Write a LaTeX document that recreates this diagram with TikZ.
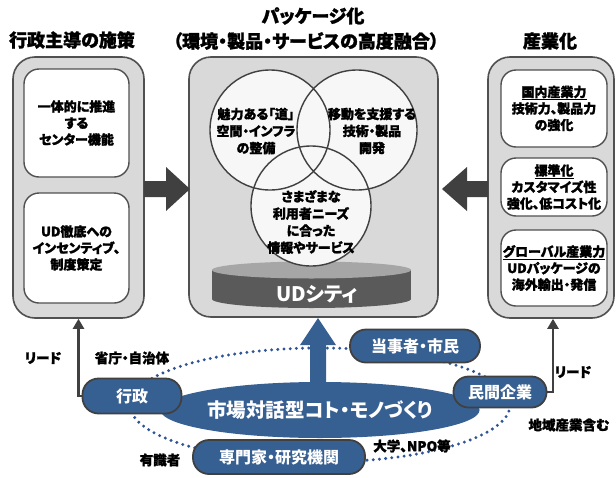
\documentclass[tikz,border=0pt]{standalone}
\usepackage{fontspec}
\setmainfont{Noto Sans CJK JP}[RawFeature=+palt, BoldFeatures={FakeBold=1.6}]
\newfontfamily\whitefont{Noto Sans CJK JP}[RawFeature=+palt]
\usetikzlibrary{arrows.meta,shapes.geometric,calc}
\definecolor{panelgray}{HTML}{D9D9D9}
\definecolor{edgegray}{HTML}{505050}
\definecolor{arrowgray}{HTML}{404040}
\definecolor{udblue}{HTML}{376092}
\definecolor{dotblue}{HTML}{2F5597}
\definecolor{cyltop}{HTML}{A6A6A6}
\definecolor{cylbody}{HTML}{5A5A5A}
\definecolor{circfill}{HTML}{F7F7F7}
\begin{document}
\begin{tikzpicture}[x=1pt,y=-1pt,
  panel/.style={draw=edgegray, line width=1.6, fill=panelgray, rounded corners=22, inner sep=0},
  innerbox/.style={draw=edgegray, line width=1.4, fill=white, rounded corners=15, inner sep=0, align=center,
    font=\fontsize{13}{16.5}\selectfont\bfseries},
  venn/.style={circle, draw=arrowgray, line width=1.4, minimum size=120, inner sep=0},
  venntext/.style={align=center, font=\fontsize{13}{17}\selectfont\bfseries},
  title/.style={font=\fontsize{18}{20}\selectfont\bfseries},
  bluebox/.style={draw=arrowgray, line width=1.8, fill=udblue, rounded corners=16, inner sep=0,
    text=white, font=\whitefont\fontsize{16}{18}\selectfont\bfseries},
  lbl/.style={font=\fontsize{13.5}{15}\selectfont\bfseries},
  smallarrow/.style={draw=arrowgray, line width=2.4, -{Triangle[length=10,width=11]}},
  bigarrow/.style={fill=arrowgray},
  dotring/.style={draw=dotblue, line width=3.3, line cap=round, dash pattern=on 0pt off 6.2pt}
]
\useasboundingbox (0,0) rectangle (616,477);

% titles
\node[title] (t1) at (72,40) {行政主導の施策};
\node[title] (t2) at (313,16) {パッケージ化};
\node[title] (t3) at (306,41) {（環境・製品・サービスの高度融合）};
\node[title] (t4) at (550,41) {産業化};

% panels
\node[panel, minimum width=131, minimum height=261] (lp) at (78.5,187.5) {};
\node[panel, minimum width=249, minimum height=260] (cp) at (313.5,187) {};
\node[panel, minimum width=126, minimum height=261] (rp) at (551,187.5) {};

% left inner boxes
\node[innerbox, minimum width=105, minimum height=108] (l1) at (76.5,123) {一体的に推進\\する\\センター機能};
\node[innerbox, minimum width=105, minimum height=110] (l2) at (76.5,248) {UD徹底への\\インセンティブ、\\制度策定};

% right inner boxes
\node[innerbox, minimum width=106, minimum height=77] (r1) at (554,108.5) {\underline{国内産業力}\\技術力、製品力\\の強化};
\node[innerbox, minimum width=106, minimum height=58] (r2) at (554,187) {\underline{標準化}\\カスタマイズ性\\強化、低コスト化};
\node[innerbox, minimum width=106, minimum height=76] (r3) at (554,268) {\underline{グローバル産業力}\\UDパッケージの\\海外輸出・発信};

% big grey arrows
\fill[bigarrow] (144,181) -- (166,181) -- (166,167) -- (190,189) -- (166,211) -- (166,197) -- (144,197) -- cycle;
\fill[bigarrow] (488,181) -- (467,181) -- (467,167) -- (442,189) -- (467,211) -- (467,197) -- (488,197) -- cycle;

% cylinder
\fill[fill=cylbody] (212,270) rectangle (411,299);
\node[ellipse, fill=cylbody, minimum width=199, minimum height=18, inner sep=0] (cylb) at (311.5,299) {};
\node[ellipse, fill=cyltop, minimum width=199, minimum height=17, inner sep=0] (cyl) at (311.5,270) {};
\node[text=white, font=\whitefont\fontsize{20}{22}\selectfont\bfseries] (ud) at (317,294) {UDシティ};

% venn circles
\fill[circfill] (270,130) circle[radius=60];
\fill[circfill] (357,130) circle[radius=60];
\fill[circfill] (311,206) circle[radius=60];
\node[venn] (ca) at (270,130) {};
\node[venn] (cb) at (357,130) {};
\node[venn] (cc) at (311,206) {};
\node[venntext] (ta) at (256,131) {魅力ある「道」\\空間・インフラ\\の整備};
\node[venntext] (tb) at (372,131) {移動を支援する\\技術・製品\\開発};
\node[venntext] (tc) at (311,222) {さまざまな\\利用者ニーズ\\に合った\\情報やサービス};

% dotted ring
\draw[dotring] (320,405) ellipse[x radius=190, y radius=57];

% blue up arrow and ellipse
\fill[udblue] (310,392) -- (310,345) -- (300,345) -- (318,318) -- (336,345) -- (326,345) -- (326,392) -- cycle;
\node[ellipse, fill=udblue, minimum width=274, minimum height=56, inner sep=0, text=white,
  font=\whitefont\fontsize{19.5}{21}\selectfont\bfseries] (mk) at (320,410) {市場対話型コト・モノづくり};

% blue boxes
\node[bluebox, minimum width=99, minimum height=35] (gy) at (132,396) {行政};
\node[bluebox, minimum width=130, minimum height=33] (tj) at (415,346) {当事者・市民};
\node[bluebox, minimum width=93, minimum height=31, rounded corners=15] (mn) at (500,392) {民間企業};
\node[bluebox, minimum width=172, minimum height=34] (sm) at (279,457) {専門家・研究機関};

% small arrows
\draw[smallarrow] (gy.west) -| (lp.south);
\draw[smallarrow] (mn.east) -| ([xshift=2]rp.south);

% labels
\node[lbl] (ld1) at (43,358) {リード};
\node[lbl] (ld2) at (573,372) {リード};
\node[lbl] (sc) at (132,358) {省庁・自治体};
\node[lbl] (yu) at (160,460) {有識者};
\node[lbl] (dg) at (412,446) {大学、NPO等};
\node[lbl] (ch) at (569,425) {地域産業含む};
\end{tikzpicture}
\end{document}
